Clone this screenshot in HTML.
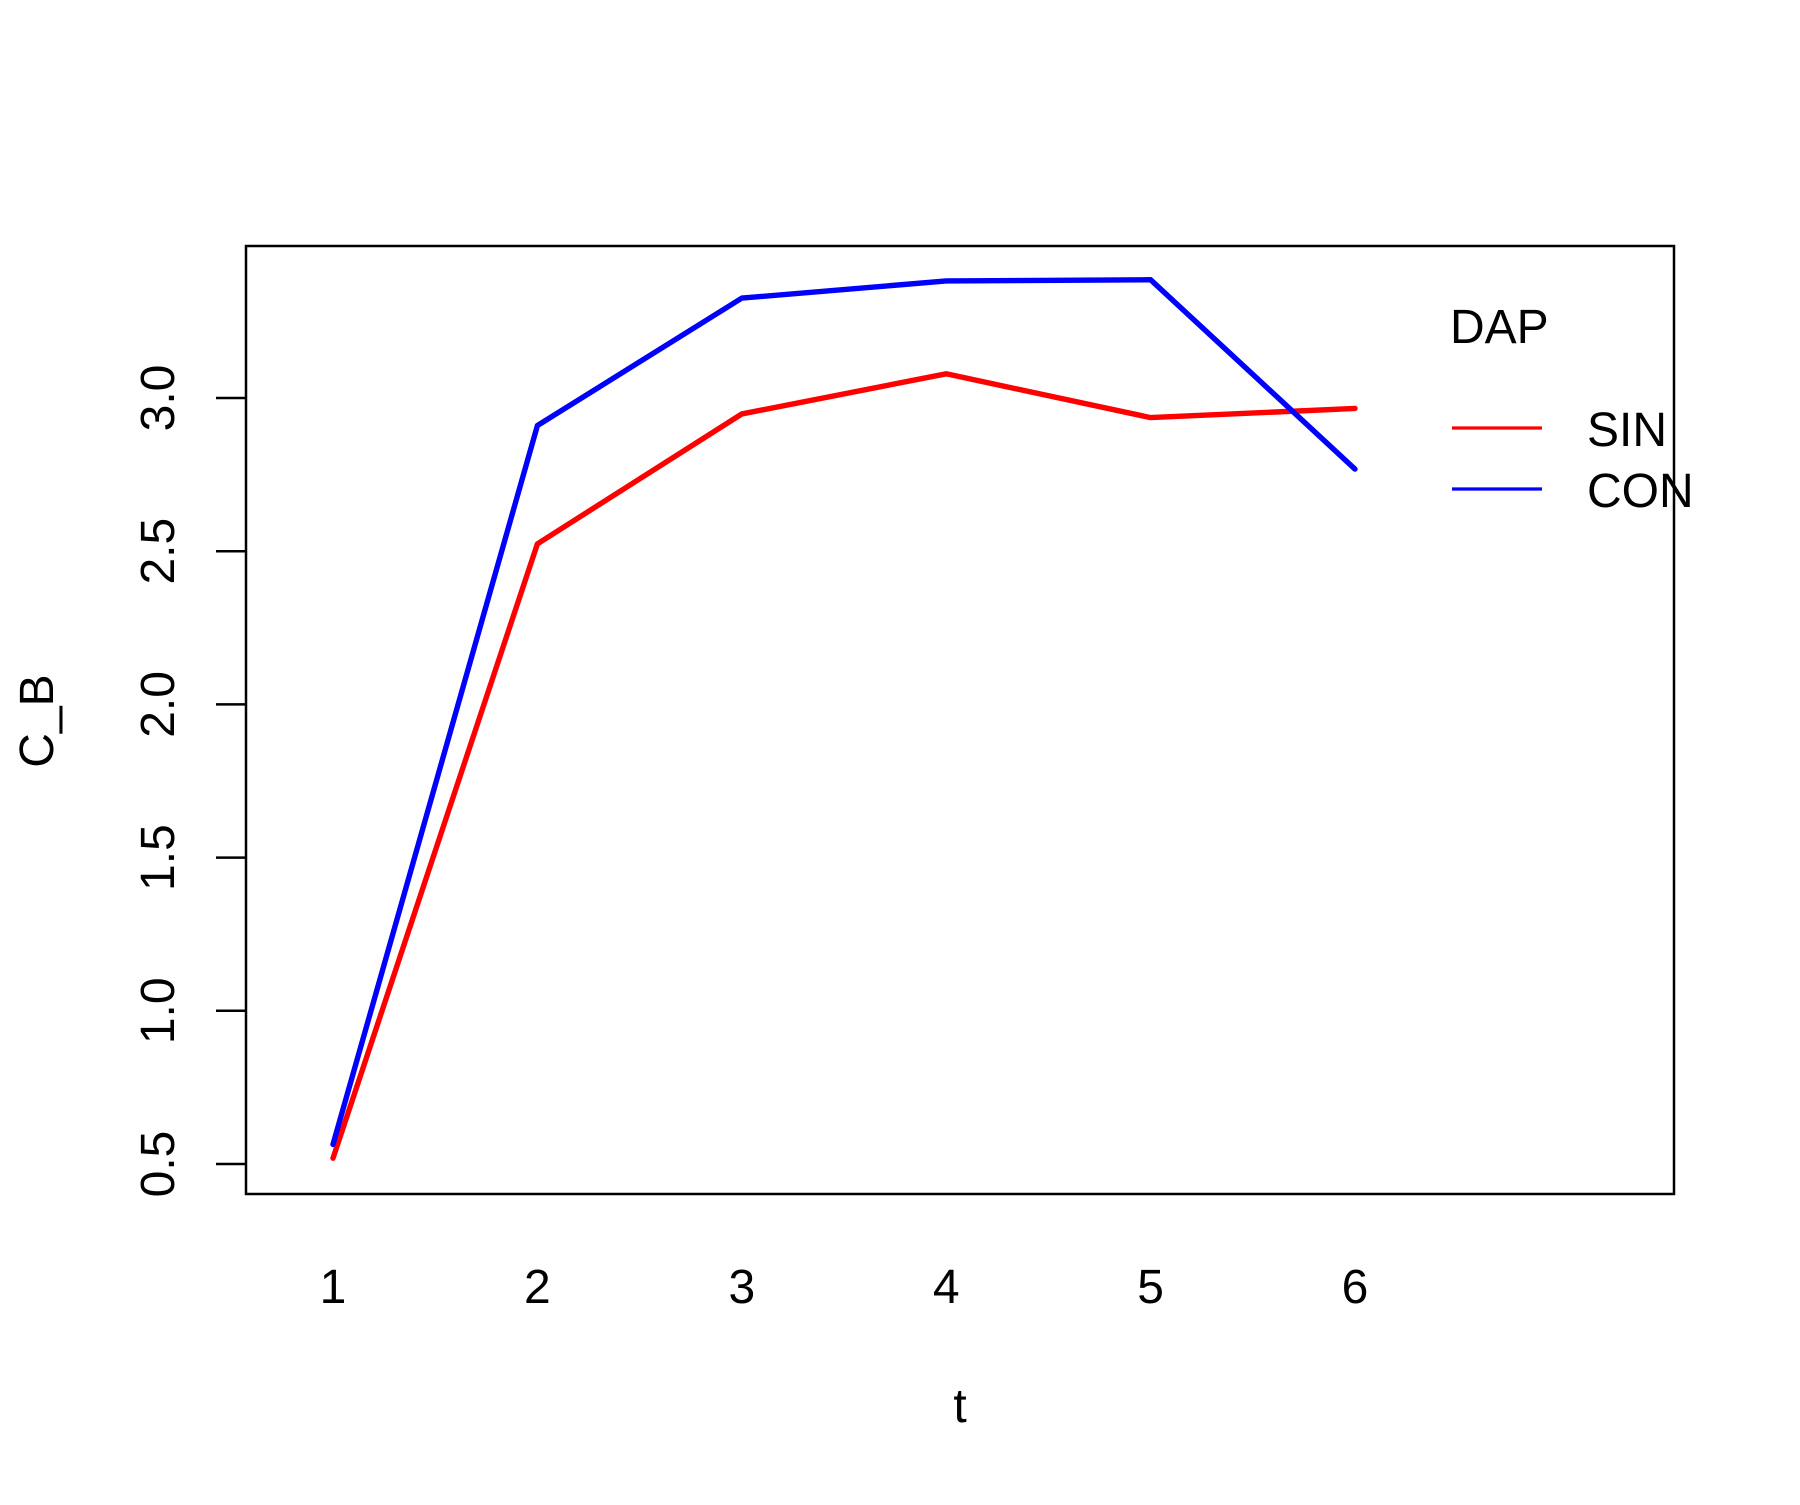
<!DOCTYPE html>
<html><head><meta charset="utf-8"><style>
body{margin:0;background:#fff}
svg text{font-family:"Liberation Sans",Arial,sans-serif;fill:#000}
</style></head><body>
<svg id="chart" width="1800" height="1500" viewBox="0 0 1800 1500" xmlns="http://www.w3.org/2000/svg">
<rect width="1800" height="1500" fill="#fff"/>
<g id="axes"></g>
<g id="series"></g>
<rect x="246" y="246" width="1428" height="948" fill="none" stroke="#000" stroke-width="2.5"/>
<text x="0" y="0" font-size="48" text-anchor="middle" transform="translate(53,721) rotate(-90)">C_B</text>
<text x="960" y="1422" font-size="48" text-anchor="middle">t</text>
<g>
<text x="1450" y="343" font-size="48">DAP</text>
<line x1="1452" y1="428" x2="1542" y2="428" stroke="#ff0000" stroke-width="3.2"/>
<text x="1587" y="446" font-size="48">SIN</text>
<line x1="1452" y1="489" x2="1542" y2="489" stroke="#0000ff" stroke-width="3.2"/>
<text x="1587" y="507" font-size="48">CON</text>
</g>
</svg>
<script>
const categories=[1,2,3,4,5,6];
const sinValues=[0.519,2.524,2.948,3.079,2.936,2.966];
const conValues=[0.564,2.910,3.326,3.382,3.386,2.768];
const yTicks=[0.5,1.0,1.5,2.0,2.5,3.0];
const yTickLabels=["0.5","1.0","1.5","2.0","2.5","3.0"];
const NS="http://www.w3.org/2000/svg";
function xs(t){return 333+(t-1)*204.4;}
function ys(v){return 1164-(v-0.5)*306.4;}
const axes=document.getElementById('axes');
function mk(tag,attrs,parent){const e=document.createElementNS(NS,tag);for(const k in attrs)e.setAttribute(k,attrs[k]);parent.appendChild(e);return e;}
yTicks.forEach((v,i)=>{
  const l=mk('line',{x1:216,x2:246,y1:ys(v),y2:ys(v),stroke:'#000','stroke-width':2.5},axes);
  
  
  const t=mk('text',{x:0,y:0,'font-size':48,'text-anchor':'middle',transform:`translate(174,${ys(v)}) rotate(-90)`},axes);
  t.textContent=yTickLabels[i];
  
  
});
categories.forEach(c=>{
  const t=mk('text',{x:xs(c),y:1303,'font-size':48,'text-anchor':'middle'},axes);
  t.textContent=String(c);
  
  
});
const series=document.getElementById('series');
function drawLine(vals,color,name){
  const pts=vals.map((v,i)=>xs(categories[i])+','+ys(v)).join(' ');
  const p=mk('polyline',{points:pts,fill:'none',stroke:color,'stroke-width':5.4,'stroke-linecap':'round','stroke-linejoin':'round'},series);
  
  
}
drawLine(sinValues,'#ff0000','series-sin');
drawLine(conValues,'#0000ff','series-con');
</script>
</body></html>
